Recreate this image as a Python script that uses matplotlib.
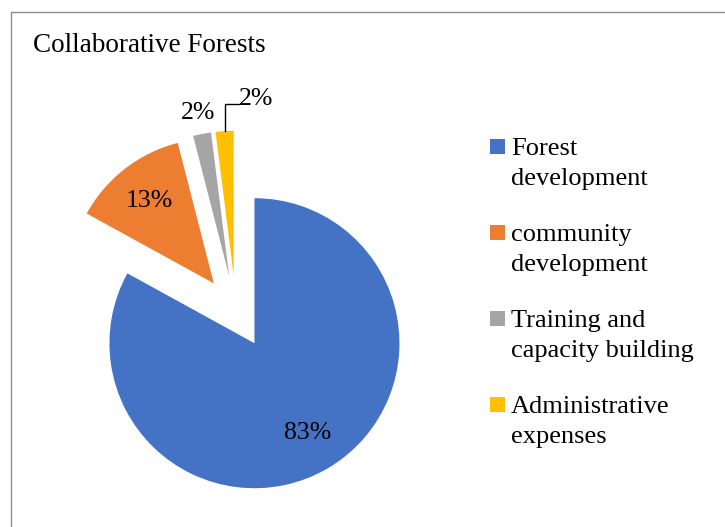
import numpy as np
import matplotlib
matplotlib.use("Agg")
import matplotlib.pyplot as plt
from matplotlib.patches import Rectangle

plt.rcParams['font.family'] = ['Liberation Serif', 'DejaVu Serif']

title = "Collaborative Forests"
categories = ["Forest\ndevelopment", "community\ndevelopment",
              "Training and\ncapacity building", "Administrative\nexpenses"]
shares = [83, 13, 2, 2]
colors = ["#4472C4", "#ED7D31", "#A5A5A5", "#FFC000"]

W, H = 725, 527
fig = plt.figure(figsize=(W / 100, H / 100), dpi=100)

# pie: radius 1 = 145 px, centre at (236, 312) px from top-left
r_px = 145
cx, cy = 236, 312
half = 1.5
ax = fig.add_axes([(cx - half * r_px) / W, (H - cy - half * r_px) / H,
                   2 * half * r_px / W, 2 * half * r_px / H])

wedges, _, autotexts = ax.pie(shares, colors=colors, startangle=90, counterclock=False,
                              explode=[0.25] * len(shares), autopct='%1.0f%%',
                              pctdistance=0.72, labeldistance=None,
                              textprops=dict(fontsize=18.5, color='black'))
ax.set_xlim(-half, half)
ax.set_ylim(-half, half)
ax.axis('off')

def wedge_dir(w):
    mid = np.deg2rad((w.theta1 + w.theta2) / 2)
    return np.cos(mid), np.sin(mid)

# grey slice label just outside the wedge
dx, dy = wedge_dir(wedges[2])
c = wedges[2].center
autotexts[2].set_position((c[0] + 1.15 * dx, c[1] + 1.15 * dy))

# yellow slice label with leader line
dx, dy = wedge_dir(wedges[3])
c = wedges[3].center
tip = (c[0] + dx, c[1] + dy)
lead_y = tip[1] + 0.19
lead_x = tip[0] + 0.10
ax.plot([tip[0], tip[0], lead_x], [tip[1], lead_y, lead_y], color='black', lw=1)
autotexts[3].set_position((lead_x, lead_y + 0.03))
autotexts[3].set_ha('left')

# outer frame
fig.patches.append(Rectangle((11 / W, -0.5), 2, 1 - 12 / H + 0.5, transform=fig.transFigure,
                             fill=False, edgecolor='#8c8c8c', lw=1))

fig.text(33 / W, 1 - 52 / H, title, fontsize=19.5, va='baseline', ha='left')

# legend: square marker next to the first line of each two-line label
leg_x, leg_top, step, line_h = 490, 155, 86, 30
for i, (lab, col) in enumerate(zip(categories, colors)):
    base = leg_top + i * step
    fig.patches.append(Rectangle((leg_x / W, 1 - (base - 1) / H), 15 / W, 15 / H,
                                 transform=fig.transFigure, facecolor=col, edgecolor='none'))
    for j, line in enumerate(lab.split("\n")):
        fig.text((leg_x + 21) / W, 1 - (base + j * line_h) / H, line,
                 fontsize=19, va='baseline', ha='left')

fig.savefig("out.png", dpi=100)
